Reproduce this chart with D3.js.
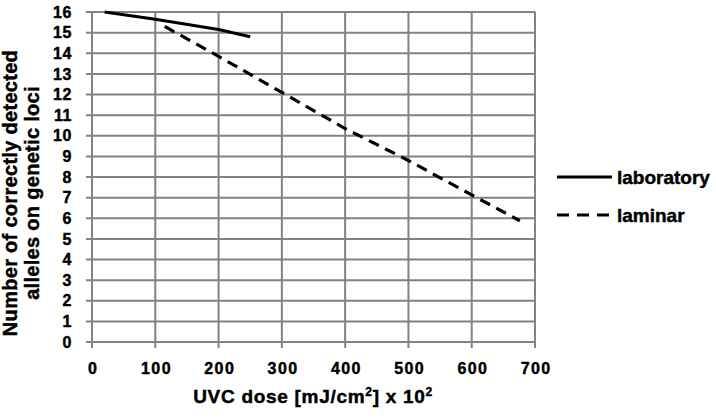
<!DOCTYPE html>
<html>
<head>
<meta charset="utf-8">
<script src="https://cdn.jsdelivr.net/npm/d3@7"></script>
<style>
  body { margin: 0; background: #fff; }
  text { font-family: "Liberation Sans", Arial, sans-serif; font-weight: bold; fill: #000;
         stroke: #000; stroke-width: 0.45px; }
</style>
</head>
<body>
<svg id="chart" width="716" height="419"></svg>
<script>
var xTicks = [0, 100, 200, 300, 400, 500, 600, 700],
    yTicks = d3.range(0, 17);

var labX = [20, 100, 200, 250],
    labY = [16.0, 15.65, 15.15, 14.8];

var lamX = [115, 200, 300, 400, 500, 600, 676],
    lamY = [15.3, 13.85, 12.1, 10.35, 8.8, 7.13, 5.88];

var seriesNames = ["laboratory", "laminar"];

var svg = d3.select("#chart"),
    margin = {top: 12, right: 181, bottom: 77, left: 92},
    width = +svg.attr("width") - margin.left - margin.right,
    height = +svg.attr("height") - margin.top - margin.bottom;

var x = d3.scaleLinear().domain([0, 700]).range([0, width]),
    y = d3.scaleLinear().domain([0, 16]).range([height, 0]);

var g = svg.append("g")
    .attr("transform", "translate(" + margin.left + "," + margin.top + ")");

// grid
g.selectAll(".hgrid").data(yTicks).enter().append("line")
    .attr("x1", -6).attr("x2", width)
    .attr("y1", function(d) { return y(d); }).attr("y2", function(d) { return y(d); })
    .attr("stroke", "#828282").attr("stroke-width", 2);

g.selectAll(".vgrid").data(xTicks).enter().append("line")
    .attr("y1", 0).attr("y2", height + 6)
    .attr("x1", function(d) { return x(d); }).attr("x2", function(d) { return x(d); })
    .attr("stroke", "#828282").attr("stroke-width", 2);

// tick labels
var xAxis = g.append("g")
    .attr("transform", "translate(0," + height + ")")
    .call(d3.axisBottom(x).tickValues(xTicks).tickSize(0).tickPadding(21))
    .call(function(a) { a.select(".domain").remove(); });
xAxis.selectAll("text")
    .attr("font-family", null).attr("fill", null)
    .style("font-size", "16px").style("letter-spacing", "1.4px")
    .attr("dx", "0.7px");

var yAxis = g.append("g")
    .call(d3.axisLeft(y).tickValues(yTicks).tickSize(0).tickPadding(20))
    .call(function(a) { a.select(".domain").remove(); });
yAxis.selectAll("text")
    .attr("font-family", null).attr("fill", null)
    .style("font-size", "16px").style("letter-spacing", "0.6px");

// lines
var line = d3.line()
    .x(function(d) { return x(d[0]); })
    .y(function(d) { return y(d[1]); });

g.append("path")
    .datum(d3.zip(labX, labY))
    .attr("d", line)
    .attr("fill", "none").attr("stroke", "#000").attr("stroke-width", 3.2);

g.append("path")
    .datum(d3.zip(lamX, lamY))
    .attr("d", line)
    .attr("fill", "none").attr("stroke", "#000").attr("stroke-width", 3.2)
    .attr("stroke-dasharray", "11,7");

// titles
svg.append("text")
    .attr("x", 313).attr("y", 403)
    .attr("text-anchor", "middle").style("font-size", "19px").style("letter-spacing", "0.7px")
    .html("UVC dose [mJ/cm<tspan dy='-7' font-size='12px'>2</tspan><tspan dy='7'>] x 10</tspan><tspan dy='-7' font-size='12px'>2</tspan>");

var yt = svg.append("text")
    .attr("transform", "translate(0,193) rotate(-90)")
    .attr("text-anchor", "middle").style("font-size", "20px").style("letter-spacing", "0.3px");
yt.append("tspan").attr("x", 0).attr("y", 17).text("Number of correctly detected");
yt.append("tspan").attr("x", 0).attr("y", 39).text("alleles on genetic loci");

// legend
var legend = svg.append("g").attr("transform", "translate(557,177)");
seriesNames.forEach(function(name, i) {
  var row = legend.append("g").attr("transform", "translate(0," + (i * 38) + ")");
  row.append("line").attr("x1", 0).attr("x2", 55).attr("y1", 0).attr("y2", 0)
      .attr("stroke", "#000").attr("stroke-width", 3.2)
      .attr("stroke-dasharray", i === 1 ? "12,8" : null);
  row.append("text").attr("x", 60).attr("y", 7).style("font-size", "19px").text(name);
});
</script>
</body>
</html>
